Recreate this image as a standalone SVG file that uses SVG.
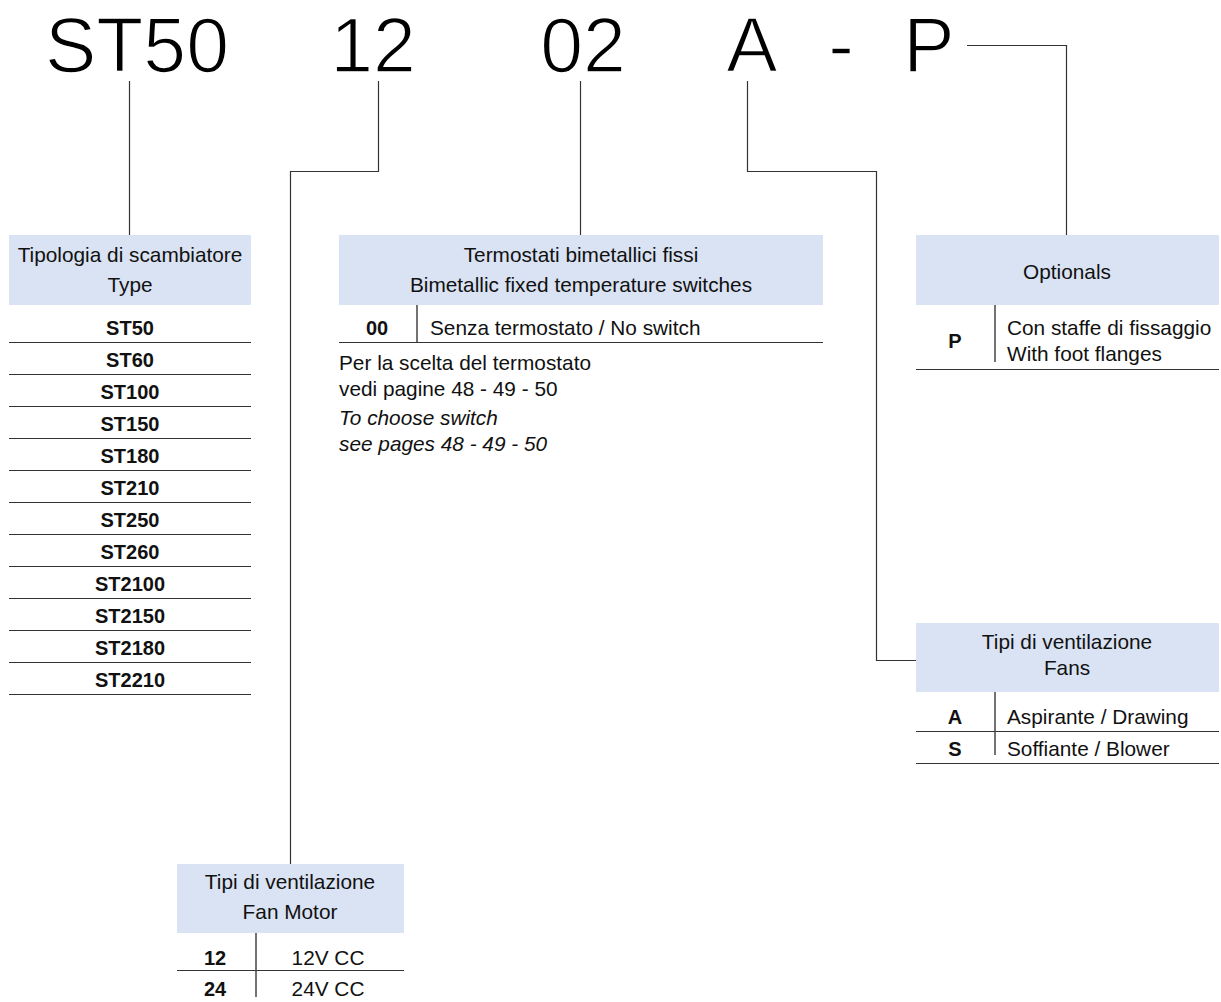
<svg xmlns="http://www.w3.org/2000/svg" width="1221" height="1002" viewBox="0 0 1221 1002">
<style>
text{font-family:"Liberation Sans",Arial,Helvetica,sans-serif;fill:#111}
.big{font-size:77px;text-anchor:middle;stroke:#fff;stroke-width:1.6;fill:#000}
.h{font-size:20.8px;text-anchor:middle}
.b{font-size:20px;font-weight:bold;text-anchor:middle}
.t{font-size:20.8px}
.i{font-size:20.8px;font-style:italic}
.box{fill:#dae3f3}
.ln{stroke:#333;stroke-width:1.2;fill:none}
.dv{stroke:#444;stroke-width:1.5;fill:none}
</style>
<rect width="1221" height="1002" fill="#fff"/>
<g id="code">
<text class="big" x="137" y="72">ST50</text>
<text class="big" x="373" y="72">12</text>
<text class="big" x="583" y="72">02</text>
<text class="big" x="752" y="72">A</text>
<text class="big" x="841" y="72">-</text>
<text class="big" x="929" y="72">P</text>
</g>
<g id="connectors" class="ln">
<path d="M129.5 81V235"/>
<path d="M378.5 81V171.5H290.5V864"/>
<path d="M580.5 81V235"/>
<path d="M747.5 81V171.5H876.5V660.5H916"/>
<path d="M967 45.5H1066.5V235"/>
</g>
<g id="type">
<rect class="box" x="9" y="235" width="242" height="70"/>
<text class="h" x="130" y="262">Tipologia di scambiatore</text>
<text class="h" x="130" y="292">Type</text>
<text class="b" x="130" y="335">ST50</text>
<text class="b" x="130" y="367">ST60</text>
<text class="b" x="130" y="399">ST100</text>
<text class="b" x="130" y="431">ST150</text>
<text class="b" x="130" y="463">ST180</text>
<text class="b" x="130" y="495">ST210</text>
<text class="b" x="130" y="527">ST250</text>
<text class="b" x="130" y="559">ST260</text>
<text class="b" x="130" y="591">ST2100</text>
<text class="b" x="130" y="623">ST2150</text>
<text class="b" x="130" y="655">ST2180</text>
<text class="b" x="130" y="687">ST2210</text>
<path class="ln" d="M9 342.5H251M9 374.5H251M9 406.5H251M9 438.5H251M9 470.5H251M9 502.5H251M9 534.5H251M9 566.5H251M9 598.5H251M9 630.5H251M9 662.5H251M9 694.5H251"/>
</g>
<g id="thermostat">
<rect class="box" x="339" y="235" width="484" height="70"/>
<text class="h" x="581" y="262">Termostati bimetallici fissi</text>
<text class="h" x="581" y="292">Bimetallic fixed temperature switches</text>
<text class="b" x="377" y="335">00</text>
<path class="dv" d="M417 305V342"/>
<text class="t" x="430" y="335">Senza termostato / No switch</text>
<path class="ln" d="M339 342.5H823"/>
<text class="t" x="339" y="370">Per la scelta del termostato</text>
<text class="t" x="339" y="396">vedi pagine 48 - 49 - 50</text>
<text class="i" x="339" y="425">To choose switch</text>
<text class="i" x="339" y="451">see pages 48 - 49 - 50</text>
</g>
<g id="optionals">
<rect class="box" x="916" y="235" width="303" height="70"/>
<text class="h" x="1067" y="279">Optionals</text>
<text class="b" x="955" y="348">P</text>
<path class="dv" d="M995 305V362"/>
<text class="t" x="1007" y="335">Con staffe di fissaggio</text>
<text class="t" x="1007" y="361">With foot flanges</text>
<path class="ln" d="M916 369.5H1219"/>
</g>
<g id="fans">
<rect class="box" x="916" y="623" width="303" height="69"/>
<text class="h" x="1067" y="649">Tipi di ventilazione</text>
<text class="h" x="1067" y="675">Fans</text>
<text class="b" x="955" y="724">A</text>
<text class="t" x="1007" y="724">Aspirante / Drawing</text>
<path class="ln" d="M916 731.5H1219"/>
<text class="b" x="955" y="756">S</text>
<text class="t" x="1007" y="756">Soffiante / Blower</text>
<path class="ln" d="M916 763.5H1219"/>
<path class="dv" d="M995 692V755"/>
</g>
<g id="fanmotor">
<rect class="box" x="177" y="864" width="227" height="69"/>
<text class="h" x="290" y="889">Tipi di ventilazione</text>
<text class="h" x="290" y="919">Fan Motor</text>
<text class="b" x="215" y="965">12</text>
<text class="h" x="328" y="965">12V CC</text>
<path class="ln" d="M177 970.5H404"/>
<text class="b" x="215" y="996">24</text>
<text class="h" x="328" y="996">24V CC</text>
<path class="dv" d="M256 933V997"/>
</g>
</svg>
